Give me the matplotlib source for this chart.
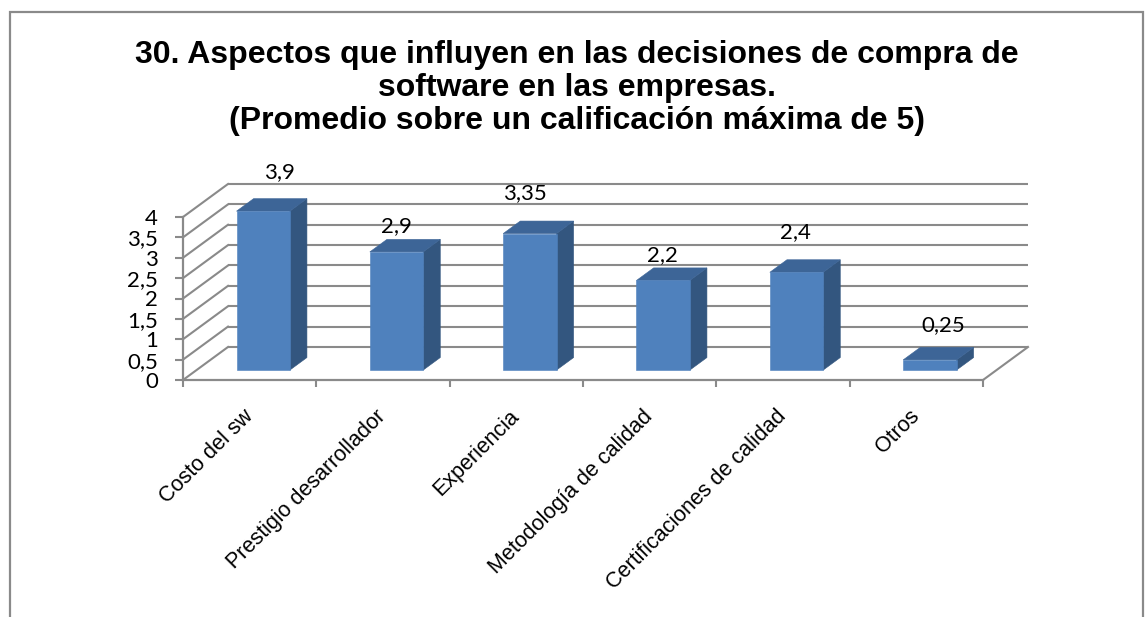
import matplotlib.pyplot as plt
from matplotlib.patches import Polygon, Rectangle

# Datos
categorias = ['Costo del sw', 'Prestigio desarrollador', 'Experiencia',
              'Metodología de calidad', 'Certificaciones de calidad', 'Otros']
promedios = [3.9, 2.9, 3.35, 2.2, 2.4, 0.25]
etiquetas = ['3,9', '2,9', '3,35', '2,2', '2,4', '0,25']
marcas_y = [0, 0.5, 1, 1.5, 2, 2.5, 3, 3.5, 4]
textos_y = ['0', '0,5', '1', '1,5', '2', '2,5', '3', '3,5', '4']
titulo = ['30. Aspectos que influyen en las decisiones de compra de',
          'software en las empresas.',
          '(Promedio sobre un calificación máxima de 5)']

# Estilo
GRIS = '#8a8a8a'
C_FRENTE = '#4f81bd'
C_TECHO = '#3d6597'
C_LADO = '#33567f'
PROF_X, PROF_Y = 0.3375, 0.81   # desplazamiento de la pared del fondo
F0, F1 = 0.30, 0.68             # profundidad de las barras
ANCHO = 0.40
# ajuste fino de las etiquetas (px)
dx_etq = [16, 0, -5, -1, -1, 13]
dy_etq = [27, 13, 28, 13, 28, 22]

W, H = 1147, 617
fig = plt.figure(figsize=(W / 100, H / 100), dpi=100)
fig.patches.append(Rectangle((10 / W, -0.1), (1143 - 10) / W, 1.1 - 12 / H,
                             transform=fig.transFigure, fill=False,
                             edgecolor=GRIS, linewidth=1.6))

ax = fig.add_axes([183 / W, (H - 380) / H, 800 / W, 163 / H])
ax.set_xlim(0, len(categorias))
ax.set_ylim(0, 4)

# Pared del fondo y pared izquierda
for g in marcas_y:
    ax.plot([PROF_X, len(categorias) + PROF_X], [g + PROF_Y, g + PROF_Y],
            color=GRIS, lw=1.5, zorder=1, clip_on=False, solid_capstyle='butt')
    ax.plot([0, PROF_X], [g, g + PROF_Y], color=GRIS, lw=1.5, zorder=1,
            clip_on=False)
ax.plot([len(categorias), len(categorias) + PROF_X], [0, PROF_Y], color=GRIS,
        lw=1.5, zorder=1, clip_on=False)


def cara(pts, color):
    ax.add_patch(Polygon(pts, closed=True, facecolor=color, edgecolor=color,
                         linewidth=0.4, zorder=3, clip_on=False))


# Barras 3D
for i, v in enumerate(promedios):
    x0 = i + 0.5 - ANCHO / 2
    x1 = i + 0.5 + ANCHO / 2
    ax0, ay0 = F0 * PROF_X, F0 * PROF_Y
    ax1, ay1 = F1 * PROF_X, F1 * PROF_Y
    cara([(x1 + ax0, ay0), (x1 + ax1, ay1), (x1 + ax1, v + ay1),
          (x1 + ax0, v + ay0)], C_LADO)
    cara([(x0 + ax0, v + ay0), (x1 + ax0, v + ay0), (x1 + ax1, v + ay1),
          (x0 + ax1, v + ay1)], C_TECHO)
    cara([(x0 + ax0, ay0), (x1 + ax0, ay0), (x1 + ax0, v + ay0),
          (x0 + ax0, v + ay0)], C_FRENTE)
    ax.annotate(etiquetas[i], xy=(i + 0.5 + ax0, v + ay1),
                xytext=(dx_etq[i], dy_etq[i]), textcoords='offset pixels',
                ha='center', va='center', fontsize=16, family='Lato',
                annotation_clip=False, zorder=5)

# Ejes
for lado in ['top', 'right']:
    ax.spines[lado].set_visible(False)
for lado in ['left', 'bottom']:
    ax.spines[lado].set_color(GRIS)
    ax.spines[lado].set_linewidth(1.6)
    ax.spines[lado].set_zorder(2)

ax.set_yticks(marcas_y)
ax.set_yticklabels(textos_y, family='Lato', fontsize=16)
ax.tick_params(axis='y', length=6, width=1.5, color=GRIS, pad=12)

ax.set_xticks(range(len(categorias) + 1))
ax.set_xticklabels([])
ax.set_xticks([i + 0.5 for i in range(len(categorias))], minor=True)
ax.set_xticklabels(categorias, minor=True, rotation=45, ha='right',
                   va='center', rotation_mode='anchor',
                   family='Liberation Sans', fontsize=15.5)
ax.tick_params(axis='x', which='major', length=5, width=1.5, color=GRIS)
ax.tick_params(axis='x', which='minor', length=0, pad=24)
ax.patch.set_visible(False)

# Título
for k, linea in enumerate(titulo):
    fig.text(577 / W, 1 - (63 + 33 * k) / H, linea, ha='center',
             va='baseline', fontsize=23, fontweight='bold',
             family='Liberation Sans')

fig.savefig('out.png', dpi=100)
